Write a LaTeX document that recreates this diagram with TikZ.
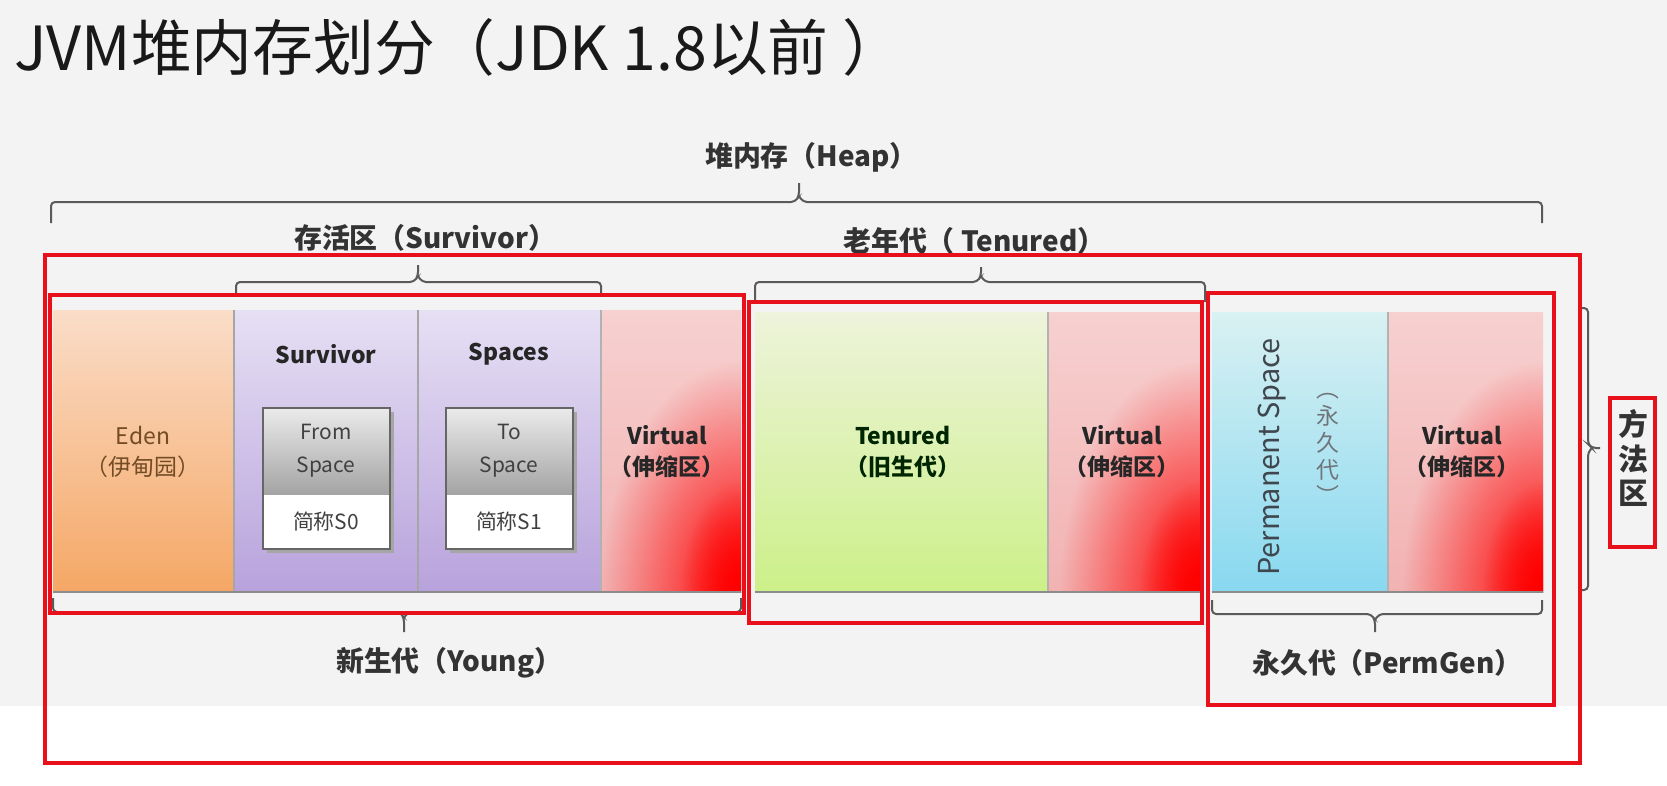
\documentclass[tikz,border=0pt]{standalone}
\usepackage{fontspec}
\newfontfamily\cjk{Noto Sans CJK SC}
\usetikzlibrary{positioning, fadings}

\definecolor{pagegray}{HTML}{F3F3F3}
\definecolor{boxred}{HTML}{E8101A}
\definecolor{bracegray}{HTML}{5A5A5A}
\definecolor{edentop}{HTML}{FADDC8}
\definecolor{edenbot}{HTML}{F5A765}
\definecolor{survtop}{HTML}{E6E0F4}
\definecolor{survbot}{HTML}{B8A2DC}
\definecolor{virttop}{HTML}{F7D0D0}
\definecolor{virtbot}{HTML}{F2B2B2}
\definecolor{tentop}{HTML}{EEF3DB}
\definecolor{tenbot}{HTML}{CCF089}
\definecolor{permtop}{HTML}{D9F1F2}
\definecolor{permbot}{HTML}{88D8F0}
\tikzfading[name=redglow, inner color=transparent!0, outer color=transparent!100]

\begin{document}
\begin{tikzpicture}[x=1bp, y=-1bp,
    redbox/.style={draw=boxred, line width=3.5bp},
    bracket/.style={draw=bracegray, line width=2bp, rounded corners=4bp},
    lbl/.style={anchor=west, inner sep=0pt, text=black!80, font=\cjk\bfseries\fontsize{28}{32}\selectfont},
    blocktxt/.style={align=center, inner sep=0pt, font=\cjk\bfseries\fontsize{23}{31}\selectfont},
    spacetxt/.style={align=center, inner sep=0pt, text=black!75, font=\cjk\fontsize{21}{33}\selectfont}]

    % page
    \fill[pagegray] (0,0) rectangle (1667,706);
    \fill[white] (0,706) rectangle (1667,786);
    \useasboundingbox (0,0) rectangle (1667,786);

    \node[anchor=west, inner sep=0pt, text=black!90, font=\cjk\fontsize{61}{66}\selectfont] (title) at (14,47) {JVM堆内存划分（JDK 1.8以前 ）};

    % blocks
    \shade[top color=edentop, bottom color=edenbot] (53,310) rectangle (234,592);
    \shade[top color=survtop, bottom color=survbot] (234,310) rectangle (601,592);
    \draw[black!35, line width=1.5bp] (234,310) -- (234,592) (418,310) -- (418,592) (601,310) -- (601,592);
    \shade[top color=tentop, bottom color=tenbot] (755,312) rectangle (1048,592);
    \shade[top color=permtop, bottom color=permbot] (1212,312) rectangle (1388,592);
    \foreach \xa/\xb/\ya in {601/741/310, 1048/1200/312, 1388/1543/312} {
      \shade[top color=virttop, bottom color=virtbot] (\xa,\ya) rectangle (\xb,592);
      \begin{scope}
        \clip (\xa,\ya) rectangle (\xb,592);
        \fill[red, path fading=redglow] (\xb,592) ellipse (140 and 230);
        \fill[red, path fading=redglow] (\xb,592) ellipse (60 and 110);
      \end{scope}
      \draw[black!30, line width=1.5bp] (\xa,\ya) -- (\xa,592);
    }
    \draw[black!45, line width=2.5bp] (53,592) -- (741,592) (755,592) -- (1200,592) (1212,592) -- (1543,592);

    % from / to spaces
    \foreach \xa/\xb in {263/390, 446/573} {
      \fill[black!35] (\xa+4,412) rectangle (\xb+4,553);
      \shade[top color=black!8, bottom color=black!36] (\xa,408) rectangle (\xb,495);
      \fill[white] (\xa,495) rectangle (\xb,549);
      \draw[black!60, line width=1.5bp] (\xa,408) rectangle (\xb,549);
    }

    % braces
    \draw[bracket] (51,223) |- (795,202) -- (799,196) -- (799,183);
    \draw[bracket] (799,196) -- (803,202) -| (1542,223);
    \draw[bracket] (236,296) |- (414,282) -- (418,276) -- (418,265);
    \draw[bracket] (418,276) -- (422,282) -| (601,296);
    \draw[bracket] (755,302) |- (977,282) -- (981,276) -- (981,267);
    \draw[bracket] (981,276) -- (985,282) -| (1205,302);
    \draw[bracket] (53,598) |- (400,612) -- (404,618) -- (404,632);
    \draw[bracket] (404,618) -- (408,612) -| (741,598);
    \draw[bracket] (1212,600) |- (1371,614) -- (1375,620) -- (1375,632);
    \draw[bracket] (1375,620) -- (1379,614) -| (1542,600);
    \draw[bracket] (1578,308) -| (1588,444) -- (1592,448) -- (1600,448);
    \draw[bracket] (1592,448) -- (1588,452) |- (1578,590);

    % labels
    \node[lbl] (heaplbl) at (705,157) {堆内存（Heap）};
    \node[lbl] (survlbl) at (294,238) {存活区（Survivor）};
    \node[lbl] (tenlbl) at (843,241) {老年代（ Tenured）};
    \node[lbl] (younglbl) at (336,663) {新生代（Young）};
    \node[lbl] (permlbl) at (1252,663) {永久代（PermGen）};

    \node[blocktxt, text=brown!60!black, font=\cjk\fontsize{23}{31}\selectfont] (eden) at (143,452) {Eden\\（伊甸园）};
    \node[blocktxt, text=black!85] (surv) at (326,354) {Survivor};
    \node[blocktxt, text=black!85] (spaces) at (509,354) {Spaces};
    \node[spacetxt] (from) at (326,451) {From\\Space};
    \node[spacetxt] (froms0) at (326,522) {简称S0};
    \node[spacetxt] (to) at (509,451) {To\\Space};
    \node[spacetxt] (tos1) at (509,522) {简称S1};
    \node[blocktxt, text=black!85] (virty) at (667,452) {Virtual\\（伸缩区）};
    \node[blocktxt, text=green!15!black] (tenured) at (903,452) {Tenured\\（旧生代）};
    \node[blocktxt, text=black!85] (virtt) at (1122,452) {Virtual\\（伸缩区）};
    \node[rotate=90, inner sep=0pt, text=cyan!20!black, font=\cjk\fontsize{29}{32}\selectfont] (permspace) at (1272,457) {Permanent Space};
    \node[align=center, inner sep=0pt, text=cyan!15!black!70, font=\cjk\fontsize{23}{27}\selectfont] (permcn) at (1328,449) {︵\\永\\久\\代\\︶};
    \node[blocktxt, text=black!85] (virtp) at (1462,452) {Virtual\\（伸缩区）};
    \node[align=center, inner sep=0pt, text=black!80, font=\cjk\bfseries\fontsize{30}{35}\selectfont] (method) at (1633,458) {方\\法\\区};

    % red frames
    \draw[redbox] (45,255) rectangle (1580,763);
    \draw[redbox] (50,295) rectangle (744,613);
    \draw[redbox] (749,302) rectangle (1202,623);
    \draw[redbox] (1208,293) rectangle (1554,705);
    \draw[redbox] (1610,398) rectangle (1655,547);
\end{tikzpicture}
\end{document}
